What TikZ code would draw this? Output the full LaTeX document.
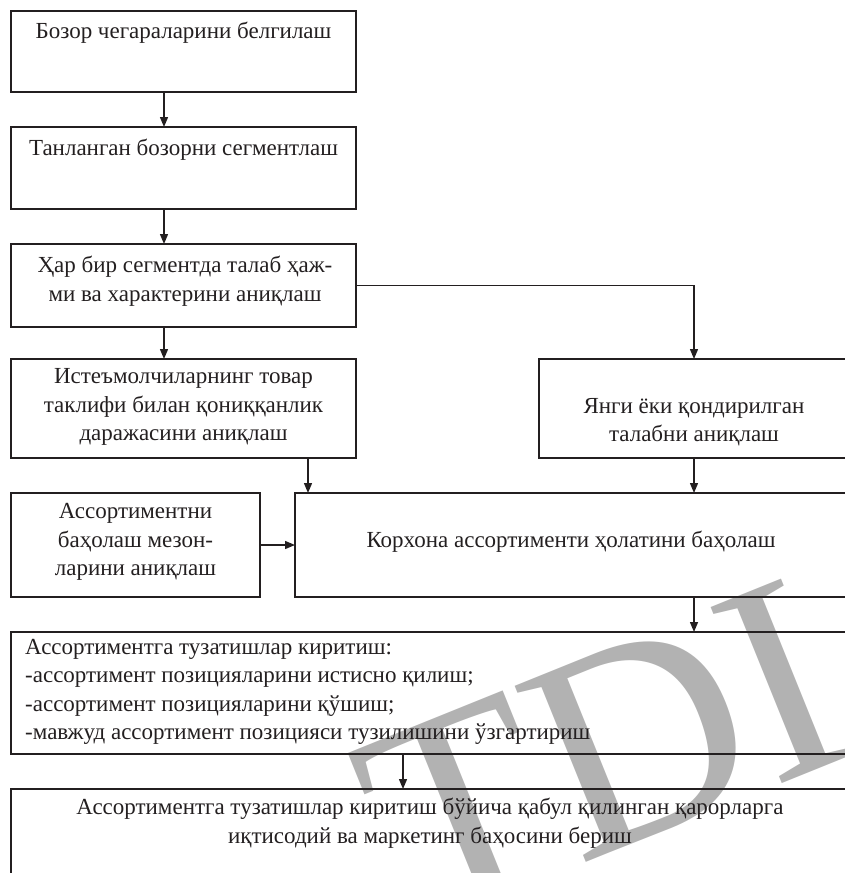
\documentclass[tikz,border=0pt]{standalone}
\usepackage{fontspec}
\setmainfont{Liberation Serif}
\usetikzlibrary{arrows.meta}
\definecolor{ink}{HTML}{231F20}
\definecolor{wmgray}{gray}{0.70}
\begin{document}
\begin{tikzpicture}[x=1pt,y=-1pt,
  box/.style={draw=ink, line width=1.5pt, inner sep=0pt, outer sep=0pt, anchor=north west},
  lbl/.style={text=ink, font=\fontsize{23}{28.5}\selectfont, align=center, inner sep=0pt},
  arr/.style={draw=ink, line width=1.4pt, -{Triangle[length=10pt,width=8pt]}},
  wm/.style={text=wmgray, font=\fontsize{290}{290}\selectfont, inner sep=0pt}]

\useasboundingbox (0,0) rectangle (845,873);
\clip (0,0) rectangle (845,873);

% background stamp
\node[wm, rotate=22, anchor=base west] (stamp) at (414,932) {TDI};

% boxes
\node[box, minimum width=345pt, minimum height=81pt]  (b1) at (11,11)  {};
\node[box, minimum width=345pt, minimum height=82pt]  (b2) at (11,127) {};
\node[box, minimum width=345pt, minimum height=83pt]  (b3) at (11,244) {};
\node[box, minimum width=345pt, minimum height=99pt]  (b4) at (11,359) {};
\node[box, minimum width=310pt, minimum height=99pt]  (b5) at (539,359) {};
\node[box, minimum width=249pt, minimum height=104pt] (b6) at (11,493) {};
\node[box, minimum width=554pt, minimum height=104pt] (b7) at (295,493) {};
\node[box, minimum width=838pt, minimum height=122pt] (b8) at (11,632) {};
\node[box, minimum width=838pt, minimum height=110pt] (b9) at (11,789) {};

% labels
\node[lbl] (t1) at (183.5,33) {Бозор чегараларини белгилаш};
\node[lbl] (t2) at (183.5,150) {Танланган бозорни сегментлаш};
\node[lbl] (t3) at (185,281) {Ҳар бир сегментда талаб ҳаж-\\ми ва характерини аниқлаш};
\node[lbl] (t4) at (183.5,407) {Истеъмолчиларнинг товар\\таклифи билан қониққанлик\\даражасини аниқлаш};
\node[lbl] (t5) at (694,422) {Янги ёки қондирилган\\талабни аниқлаш};
\node[lbl] (t6) at (135.5,542) {Ассортиментни\\баҳолаш мезон-\\ларини аниқлаш};
\node[lbl] (t7) at (571,542) {Корхона ассортименти ҳолатини баҳолаш};
\node[lbl, align=left, anchor=west] (t8) at (25,692) {Ассортиментга тузатишлар киритиш:\\-ассортимент позицияларини истисно қилиш;\\-ассортимент позицияларини қўшиш;\\-мавжуд ассортимент позицияси тузилишини ўзгартириш};
\node[lbl] (t9) at (430,823) {Ассортиментга тузатишлар киритиш бўйича қабул қилинган қарорларга\\иқтисодий ва маркетинг баҳосини бериш};

% arrow columns
\coordinate (xa) at (164,0);
\coordinate (xb) at (694,0);
\coordinate (xc) at (308,0);
\coordinate (xd) at (403,0);

% connectors
\draw[arr] (b1.south -| xa) -- (b2.north -| xa);
\draw[arr] (b2.south -| xa) -- (b3.north -| xa);
\draw[arr] (b3.south -| xa) -- (b4.north -| xa);
\draw[arr] (b3.east) -| (b5.north -| xb);
\draw[arr] (b4.south -| xc) -- (b7.north -| xc);
\draw[arr] (b5.south -| xb) -- (b7.north -| xb);
\draw[arr] (b6.east) -- (b7.west);
\draw[arr] (b7.south -| xb) -- (b8.north -| xb);
\draw[arr] (b8.south -| xd) -- (b9.north -| xd);
\end{tikzpicture}
\end{document}
